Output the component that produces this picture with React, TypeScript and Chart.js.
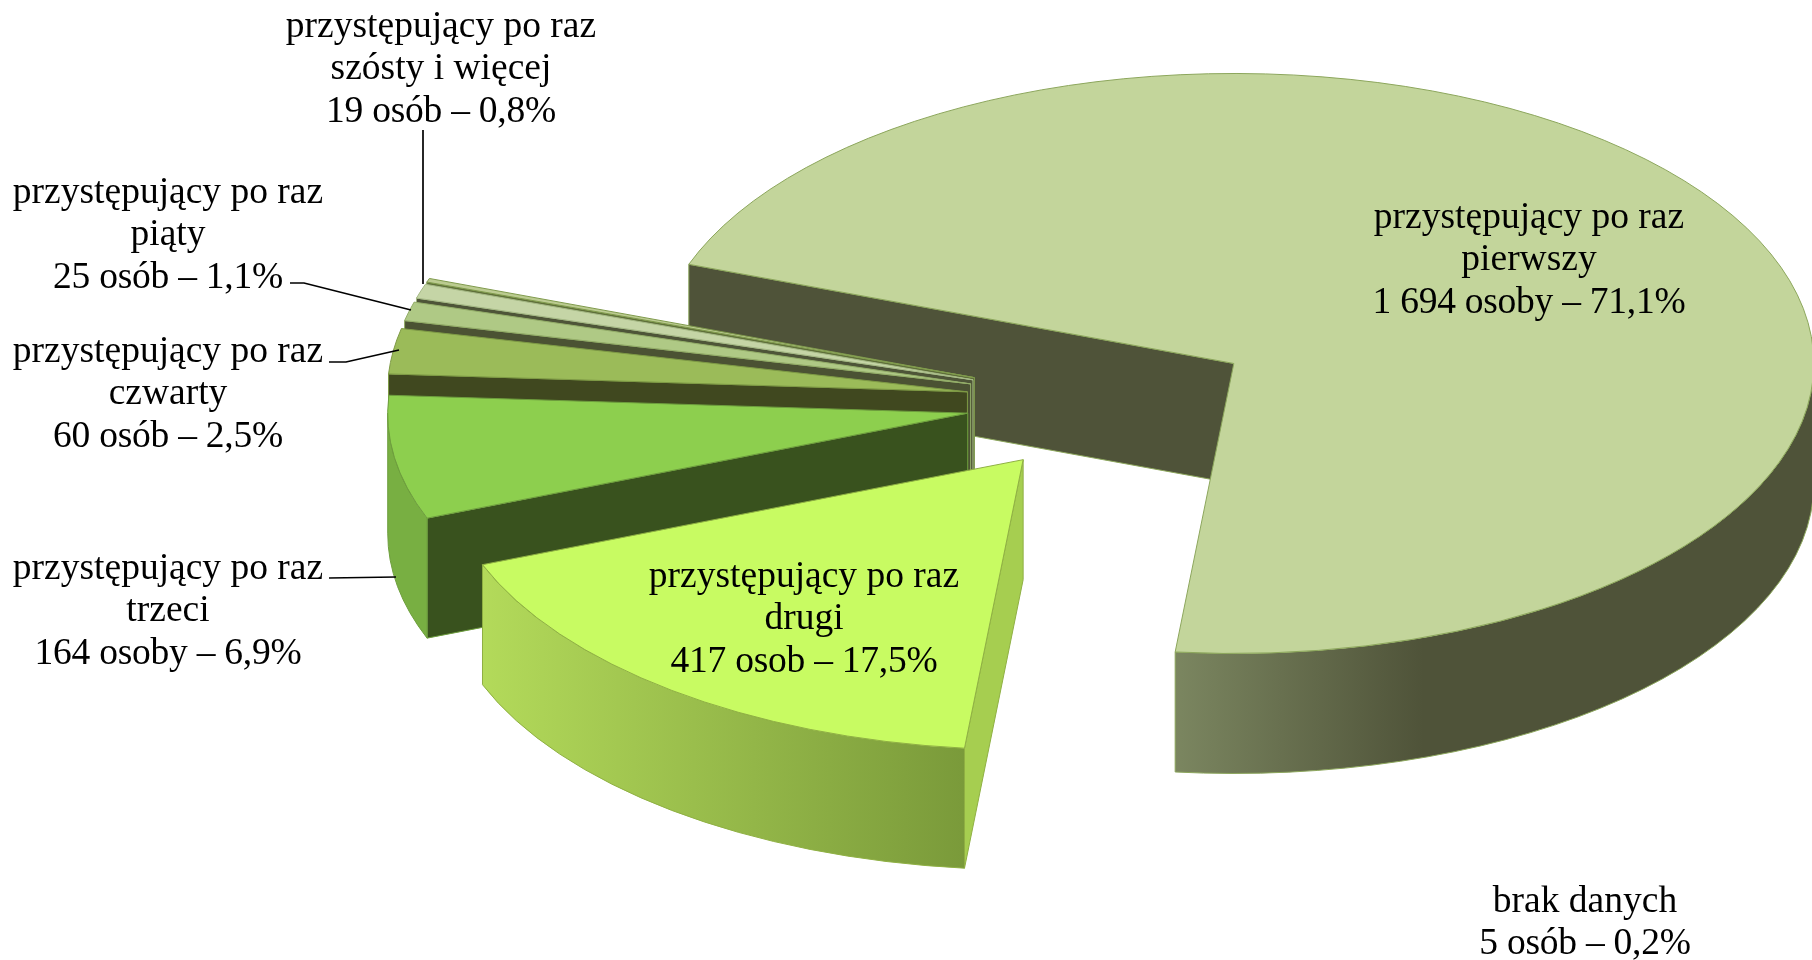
import React, { useEffect, useRef } from "react";
import { Chart, registerables } from "chart.js";

Chart.register(...registerables);

const categories = [
  "przystępujący po raz pierwszy",
  "przystępujący po raz drugi",
  "przystępujący po raz trzeci",
  "przystępujący po raz czwarty",
  "przystępujący po raz piąty",
  "przystępujący po raz szósty i więcej",
  "brak danych",
];
const values = [1694, 417, 164, 60, 25, 19, 5];
const labelLines = [
  ["przystępujący po raz", "pierwszy", "1 694 osoby – 71,1%"],
  ["przystępujący po raz", "drugi", "417 osob – 17,5%"],
  ["przystępujący po raz", "trzeci", "164 osoby – 6,9%"],
  ["przystępujący po raz", "czwarty", "60 osób – 2,5%"],
  ["przystępujący po raz", "piąty", "25 osób – 1,1%"],
  ["przystępujący po raz", "szósty i więcej", "19 osób – 0,8%"],
  ["brak danych", "5 osób – 0,2%"],
];
const topColors = ["#C3D59B", "#C8FB62", "#8DCF4E", "#9BBB59", "#AFC985", "#C5D5A6", "#BBCB90"];
const wallColors = ["#4F5339", "#A6CE50", "#39521E", "#40481F", "#4B5233", "#4E5538", "#5F6F3A"];
const rimFrom = ["#7B8660", "#B3DA5A", "#78AF42", "#6E8C3A", "#7A9350", "#8A9E68", "#8A9E68"];
const rimTo = ["#4F5339", "#7A9A3A", "#78AF42", "#6E8C3A", "#7A9350", "#8A9E68", "#8A9E68"];
const edgeColors = ["#8CA65C", "#8FB043", "#6E9E3E", "#7E9A45", "#93AD68", "#A5B985", "#7F9A4C"];
const labelCenters = [
  [1529, 218], [804, 577], [168, 569], [168, 352], [168, 193], [441, 27], [1585, 902],
];
const leaderLines = [
  [],
  [],
  [[329, 578], [396, 577]],
  [[329, 362], [346, 362], [399, 350]],
  [[290, 283], [304, 283], [411, 310]],
  [[423, 130], [423, 284]],
  [],
];

const SQUASH = 0.5;
const DEPTH = 120;
const EXPLODE = 145;
const LINE_HEIGHT = 42.6;
const MAIN_RIM_FADE = 248;
const DRAW_ORDER = [0, 6, 5, 4, 3, 2, 1];

const pie3dPlugin = {
  id: "pie3d",
  beforeDatasetDraw(chart: any) {
    const ctx = chart.ctx;
    const arcs = chart.getDatasetMeta(0).data;
    for (const i of DRAW_ORDER) {
      const { x, y, startAngle, endAngle, outerRadius: r } = arcs[i].getProps(
        ["x", "y", "startAngle", "endAngle", "outerRadius"],
        true
      );
      const mid = (startAngle + endAngle) / 2;
      const cx = x + Math.cos(mid) * EXPLODE;
      const cy = y + Math.sin(mid) * EXPLODE * SQUASH;
      const rx = r;
      const ry = r * SQUASH;
      const rimX = (a: number) => cx + Math.cos(a) * rx;
      const rimY = (a: number) => cy + Math.sin(a) * ry;
      ctx.save();
      ctx.lineWidth = 1;
      ctx.lineJoin = "round";
      ctx.strokeStyle = edgeColors[i];

      // radial wall on the start edge, visible when that edge points left
      if (Math.cos(startAngle) < 0) {
        ctx.beginPath();
        ctx.moveTo(cx, cy);
        ctx.lineTo(rimX(startAngle), rimY(startAngle));
        ctx.lineTo(rimX(startAngle), rimY(startAngle) + DEPTH);
        ctx.lineTo(cx, cy + DEPTH);
        ctx.closePath();
        ctx.fillStyle = wallColors[i];
        ctx.fill();
        ctx.stroke();
      }
      // radial wall on the end edge, visible when that edge points right
      if (Math.cos(endAngle) > 0) {
        ctx.beginPath();
        ctx.moveTo(cx, cy);
        ctx.lineTo(rimX(endAngle), rimY(endAngle));
        ctx.lineTo(rimX(endAngle), rimY(endAngle) + DEPTH);
        ctx.lineTo(cx, cy + DEPTH);
        ctx.closePath();
        ctx.fillStyle = wallColors[i];
        ctx.fill();
        ctx.stroke();
      }
      // outer rim: the part of the arc on the front half of the ellipse
      for (let k = -1; k <= 1; k++) {
        const a0 = Math.max(startAngle, k * 2 * Math.PI);
        const a1 = Math.min(endAngle, k * 2 * Math.PI + Math.PI);
        if (a1 <= a0) continue;
        const left = Math.min(rimX(a0), rimX(a1));
        const span = i === 0 ? MAIN_RIM_FADE : Math.abs(rimX(a1) - rimX(a0));
        const g = ctx.createLinearGradient(left, 0, left + span, 0);
        g.addColorStop(0, rimFrom[i]);
        g.addColorStop(1, rimTo[i]);
        ctx.beginPath();
        ctx.ellipse(cx, cy, rx, ry, 0, a0, a1);
        ctx.lineTo(rimX(a1), rimY(a1) + DEPTH);
        ctx.ellipse(cx, cy + DEPTH, rx, ry, 0, a1, a0, true);
        ctx.closePath();
        ctx.fillStyle = g;
        ctx.fill();
        ctx.stroke();
      }
      // top surface
      ctx.beginPath();
      ctx.moveTo(cx, cy);
      ctx.ellipse(cx, cy, rx, ry, 0, startAngle, endAngle);
      ctx.closePath();
      ctx.fillStyle = topColors[i];
      ctx.fill();
      ctx.stroke();
      ctx.restore();
    }
    return false;
  },
  afterDatasetsDraw(chart: any) {
    const ctx = chart.ctx;
    ctx.save();
    ctx.strokeStyle = "#000000";
    ctx.lineWidth = 1.7;
    for (const pts of leaderLines) {
      if (!pts.length) continue;
      ctx.beginPath();
      pts.forEach(([px, py], n) => (n ? ctx.lineTo(px, py) : ctx.moveTo(px, py)));
      ctx.stroke();
    }
    ctx.fillStyle = "#000000";
    ctx.font = '37.5px "Liberation Serif"';
    ctx.textAlign = "center";
    ctx.textBaseline = "middle";
    labelLines.forEach((lines, i) => {
      const [lx, ly] = labelCenters[i];
      lines.forEach((line, n) => {
        ctx.letterSpacing = /\d/.test(line) ? "-0.25px" : "0px";
        ctx.fillText(line, lx, ly + n * LINE_HEIGHT);
      });
    });
    ctx.restore();
  },
};

export default function App() {
  const ref = useRef<HTMLCanvasElement | null>(null);
  useEffect(() => {
    const chart = new Chart(ref.current as HTMLCanvasElement, {
      type: "pie",
      data: {
        labels: categories,
        datasets: [{ data: values, backgroundColor: topColors, borderColor: edgeColors, borderWidth: 1 }],
      },
      options: {
        responsive: false,
        animation: false,
        rotation: 290,
        radius: 580,
        layout: { padding: { left: 410, bottom: 156 } },
        plugins: { legend: { display: false }, tooltip: { enabled: false } },
      },
      plugins: [pie3dPlugin],
    } as any);
    return () => chart.destroy();
  }, []);
  return (
    <div style={{ position: "fixed", left: 0, top: 0, width: 1812, height: 960, background: "#fff" }}>
      <canvas ref={ref} width={1812} height={960} style={{ display: "block" }} />
    </div>
  );
}
